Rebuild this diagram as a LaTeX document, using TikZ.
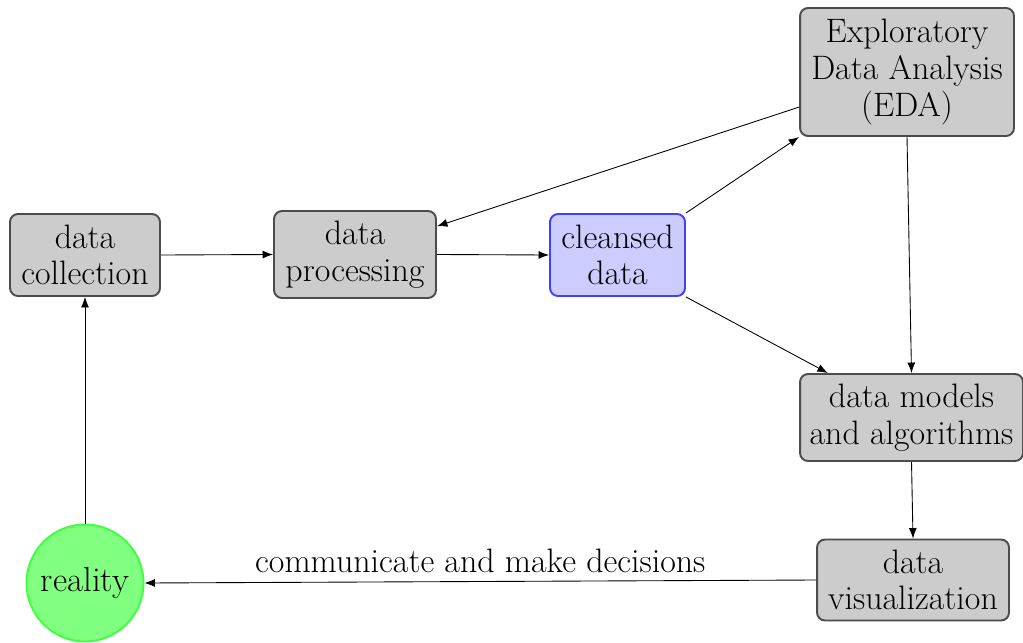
\documentclass[tikz,border=0pt]{standalone}
\usetikzlibrary{arrows.meta}
\begin{document}
\begin{tikzpicture}[x=0.02cm,y=-0.02cm,
  every node/.style={font=\fontsize{19.3}{20.8}\selectfont},
  box/.style={draw=black!70, fill=black!20, line width=1.1pt, rounded corners=0.16cm, align=center, inner sep=0pt},
  cleanbox/.style={box, draw=blue!75, fill=blue!20},
  realnode/.style={circle, draw=green!75, fill=green!50, line width=1.1pt, inner sep=0pt, minimum size=2.34cm, font=\fontsize{19.8}{22}\selectfont},
  conn/.style={line width=0.5pt, -{Latex[length=2.1mm,width=1.6mm]}}
]
\useasboundingbox (0,0) rectangle (1023,642);
\node[box, minimum width=3.0cm, minimum height=1.64cm] (coll) at (85,255) {data\\collection};
\node[box, minimum width=3.24cm, minimum height=1.74cm] (proc) at (355,254.5) {data\\processing};
\node[cleanbox, minimum width=2.7cm, minimum height=1.64cm] (clean) at (617.5,255) {cleansed\\data};
\node[box, minimum width=4.28cm, minimum height=2.56cm] (eda) at (907,72) {Exploratory\\Data Analysis\\(EDA)};
\node[box, minimum width=4.46cm, minimum height=1.74cm] (models) at (911.5,417.5) {data models\\and algorithms};
\node[box, minimum width=3.84cm, minimum height=1.62cm] (vis) at (913,580) {data\\visualization};
\node[realnode] (real) at (85,583) {reality};

\draw[conn] (coll.east) -- (proc.west);
\draw[conn] (proc.east) -- (clean.west);
\draw[conn] (clean.north east) -- (eda.south west);
\draw[conn] (eda.198) -- (proc.19);
\draw[conn] (clean.south east) -- (models.152);
\draw[conn] (eda.south) -- (models.north);
\draw[conn] (models.south) -- (vis.north);
\draw[conn] (vis.west) -- node[above, inner sep=4.5pt] (lbl) {communicate and make decisions} (real.east);
\draw[conn] (real.north) -- (coll.south);
\end{tikzpicture}
\end{document}
